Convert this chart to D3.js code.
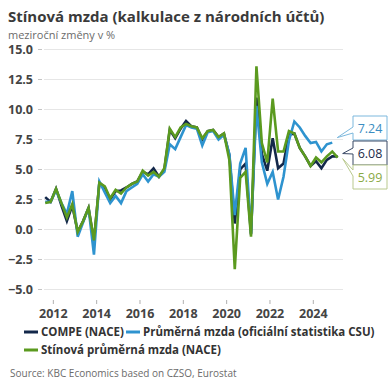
<!DOCTYPE html>
<html>
<head>
<meta charset="utf-8">
<script src="https://cdn.jsdelivr.net/npm/d3@7"></script>
<style>
  body { margin: 0; background: #fff; }
  svg { display: block; font-family: "Open Sans", "Noto Sans", sans-serif; }
</style>
</head>
<body>
<svg id="chart" width="392" height="392"></svg>
<script>
// Quarters shown on the chart
const quarters = [
  "2011Q3", "2011Q4",
  "2012Q1", "2012Q2", "2012Q3", "2012Q4",
  "2013Q1", "2013Q2", "2013Q3", "2013Q4",
  "2014Q1", "2014Q2", "2014Q3", "2014Q4",
  "2015Q1", "2015Q2", "2015Q3", "2015Q4",
  "2016Q1", "2016Q2", "2016Q3", "2016Q4",
  "2017Q1", "2017Q2", "2017Q3", "2017Q4",
  "2018Q1", "2018Q2", "2018Q3", "2018Q4",
  "2019Q1", "2019Q2", "2019Q3", "2019Q4",
  "2020Q1", "2020Q2", "2020Q3", "2020Q4",
  "2021Q1", "2021Q2", "2021Q3", "2021Q4",
  "2022Q1", "2022Q2", "2022Q3", "2022Q4",
  "2023Q1", "2023Q2", "2023Q3", "2023Q4",
  "2024Q1", "2024Q2", "2024Q3", "2024Q4",
  "2025Q1"
];

// COMPE (NACE)
const compe = [
  2.7, 2.3, 3.4, 2.0, 0.7, 2.0, -0.2, 0.7, 1.8, -1.0,
  3.9, 3.5, 2.5, 3.2, 3.25, 3.5, 3.8, 4.0, 4.8, 4.6,
  5.1, 4.4, 5.0, 8.3, 7.6, 8.4, 9.05, 8.6, 8.5, 7.5,
  8.2, 8.3, 7.7, 8.0, 6.2, 0.5, 5.0, 5.5, -0.4, 11.0,
  6.3, 4.9, 7.6, 5.1, 5.5, 7.9, 8.0, 6.8, 6.1, 5.3,
  5.7, 5.1, 5.8, 6.1, 6.08
];

// Průměrná mzda (oficiální statistika CSU) - one quarter shorter
const prumerna = [
  2.3, 2.3, 3.3, 2.2, 1.3, 3.2, -0.6, 0.6, 1.8, -2.1,
  4.0, 3.1, 2.2, 2.8, 2.2, 3.2, 3.5, 3.8, 4.6, 4.0,
  4.6, 4.4, 4.8, 7.1, 6.7, 7.7, 8.7, 8.5, 8.4, 7.0,
  8.1, 8.2, 7.5, 7.9, 6.3, 1.2, 5.5, 6.8, -0.3, 10.3,
  5.6, 3.8, 4.8, 2.5, 4.4, 7.4, 9.0, 8.5, 7.8, 7.2,
  7.3, 6.5, 7.1, 7.24
];

// Stínová průměrná mzda (NACE)
const stinova = [
  2.2, 2.3, 3.4, 2.2, 1.0, 2.1, -0.2, 0.7, 1.8, -0.9,
  3.9, 3.6, 2.6, 3.3, 3.0, 3.5, 3.8, 4.0, 4.9, 4.5,
  4.8, 4.4, 5.1, 8.4, 7.7, 8.5, 8.8, 8.6, 8.5, 7.6,
  8.2, 8.3, 7.7, 8.0, 5.8, -3.3, 4.3, 4.8, -0.6, 13.6,
  7.2, 5.6, 10.9, 6.5, 6.5, 8.2, 8.0, 6.8, 6.1, 5.3,
  6.0, 5.6, 6.1, 6.5, 5.99
];

const yTicks = [-5, -2.5, 0, 2.5, 5, 7.5, 10, 12.5, 15];
const xTicks = [2012, 2014, 2016, 2018, 2020, 2022, 2024];

const COMPE_COLOR = "#13284a";
const CSU_COLOR = "#2e93cf";
const SHADOW_COLOR = "#5b9a1f";

const svg = d3.select("#chart");

// quarter label -> fractional year (middle of quarter)
const qTime = (q) => +q.slice(0, 4) + (+q.slice(5) - 1) * 0.25 + 0.125;

const x = d3.scaleLinear().domain([2011.5, 2025.5]).range([42.5, 345.8]);
const y = d3.scaleLinear().domain([-5, 15]).range([289.5, 49.5]);

const gridLeft = 44;
const gridRight = 343;

// Title
svg.append("text")
  .attr("x", 8).attr("y", 22)
  .attr("font-size", 15).attr("font-weight", 700)
  .attr("fill", "#3a3a3a")
  .text("Stínová mzda (kalkulace z národních účtů)");

svg.append("text")
  .attr("x", 8).attr("y", 39)
  .attr("font-size", 11)
  .attr("fill", "#6b6b6b")
  .text("meziroční změny v %");

// Y grid + labels
const yAxis = svg.append("g");
yAxis.selectAll("line.grid").data(yTicks).join("line")
  .attr("class", "grid")
  .attr("x1", gridLeft).attr("x2", gridRight)
  .attr("y1", (d) => y(d)).attr("y2", (d) => y(d))
  .attr("stroke", "#e6e6e6").attr("stroke-width", 1);
yAxis.selectAll("line.tick").data(yTicks).join("line")
  .attr("class", "tick")
  .attr("x1", 38).attr("x2", 42)
  .attr("y1", (d) => y(d)).attr("y2", (d) => y(d))
  .attr("stroke", "#c4c4c4");
yAxis.selectAll("text").data(yTicks).join("text")
  .attr("x", 33).attr("y", (d) => y(d) + 4.5)
  .attr("text-anchor", "end")
  .attr("font-size", 12.5).attr("font-weight", 700)
  .attr("fill", "#444")
  .text((d) => d3.format(".1f")(d));

// X axis ticks + labels
const xAxis = svg.append("g");
xAxis.selectAll("line").data(xTicks).join("line")
  .attr("x1", (d) => x(d)).attr("x2", (d) => x(d))
  .attr("y1", 300).attr("y2", 304)
  .attr("stroke", "#b0b0b0");
xAxis.selectAll("text").data(xTicks).join("text")
  .attr("x", (d) => x(d)).attr("y", 317.5)
  .attr("text-anchor", "middle")
  .attr("font-size", 12.5).attr("font-weight", 700)
  .attr("fill", "#444")
  .text((d) => d);

// Lines
const line = d3.line()
  .x((d) => x(d.t))
  .y((d) => y(d.v));

const seriesList = [
  { values: compe, color: COMPE_COLOR },
  { values: prumerna, color: CSU_COLOR },
  { values: stinova, color: SHADOW_COLOR },
];

seriesList.forEach((s) => {
  const pts = s.values.map((v, i) => ({ t: qTime(quarters[i]), v }));
  svg.append("path")
    .datum(pts)
    .attr("d", line)
    .attr("fill", "none")
    .attr("stroke", s.color)
    .attr("stroke-width", 2.6)
    .attr("stroke-linejoin", "miter");
});

// End-value callouts
const callouts = [
  { series: prumerna, text: "7.24", stroke: "#7cb8dd", color: "#3b8dc2", top: 116, tipDy: -5, b1: 11, b2: 17 },
  { series: compe, text: "6.08", stroke: "#3b4a66", color: "#1c2b4a", top: 141, tipDy: -3, b1: 7, b2: 13 },
  { series: stinova, text: "5.99", stroke: "#b9c98e", color: "#8aaa45", top: 165, tipDy: 1, b1: 5, b2: 11 },
];
const boxLeft = 353, boxW = 34, boxH = 24;
callouts.forEach((c) => {
  const last = c.series.length - 1;
  const tipX = x(qTime(quarters[last])) + 5;
  const tipY = y(c.series[last]) + c.tipDy;
  const t = c.top;
  const pathD = `M${boxLeft},${t} H${boxLeft + boxW} V${t + boxH} H${boxLeft}` +
    ` V${t + c.b2} L${tipX},${tipY} L${boxLeft},${t + c.b1} Z`;
  svg.append("path")
    .attr("d", pathD)
    .attr("fill", "#fff")
    .attr("stroke", c.stroke)
    .attr("stroke-width", 1);
  svg.append("text")
    .attr("x", boxLeft + boxW / 2).attr("y", t + boxH / 2 + 4.5)
    .attr("text-anchor", "middle")
    .attr("font-size", 12.5)
    .attr("fill", c.color)
    .text(c.text);
});

// Legend
const legendItems = [
  { label: "COMPE (NACE)", color: COMPE_COLOR, x: 24, y: 332 },
  { label: "Průměrná mzda (oficiální statistika CSU)", color: CSU_COLOR, x: 126, y: 332 },
  { label: "Stínová průměrná mzda (NACE)", color: SHADOW_COLOR, x: 24, y: 350 },
];
const legend = svg.append("g");
legendItems.forEach((it) => {
  legend.append("line")
    .attr("x1", it.x).attr("x2", it.x + 14)
    .attr("y1", it.y).attr("y2", it.y)
    .attr("stroke", it.color).attr("stroke-width", 3);
  legend.append("text")
    .attr("x", it.x + 17).attr("y", it.y + 4)
    .attr("font-size", 11.5).attr("font-weight", 700)
    .attr("fill", "#333")
    .text(it.label);
});

// Source
svg.append("text")
  .attr("x", 10).attr("y", 377)
  .attr("font-size", 10)
  .attr("fill", "#6b6b6b")
  .text("Source: KBC Economics based on CZSO, Eurostat");
</script>
</body>
</html>
